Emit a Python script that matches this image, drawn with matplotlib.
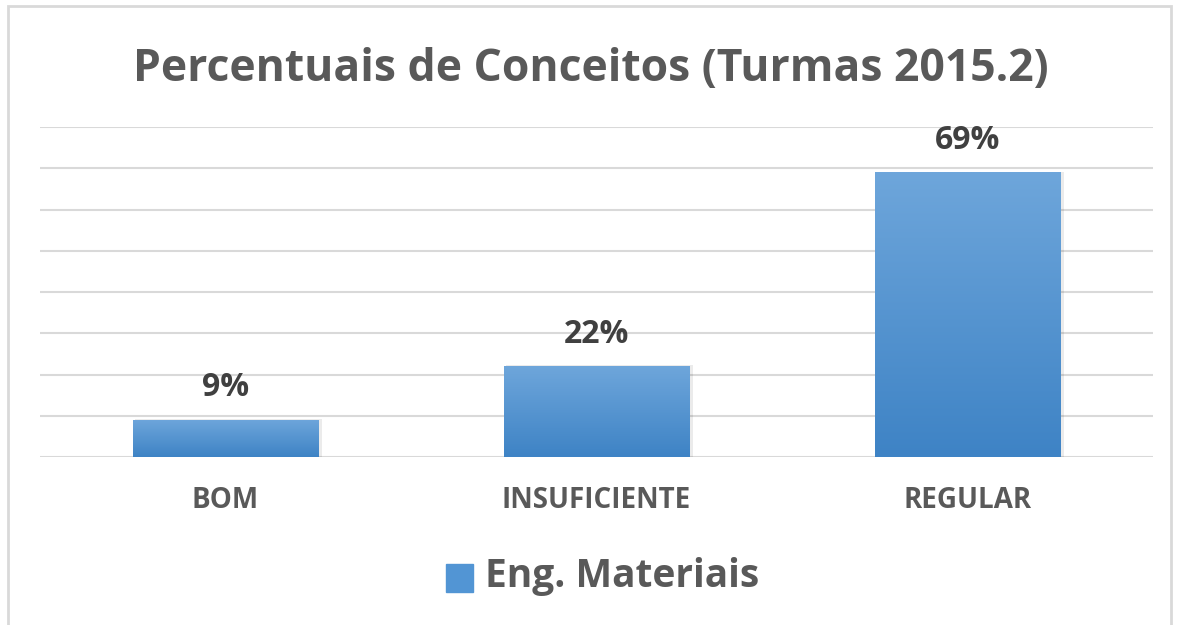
import numpy as np
import matplotlib.pyplot as plt
from matplotlib.colors import LinearSegmentedColormap
from matplotlib.patches import Rectangle

# --- Dados ---
categorias = ["BOM", "INSUFICIENTE", "REGULAR"]
percentuais = [9, 22, 69]
serie = "Eng. Materiais"
titulo = "Percentuais de Conceitos (Turmas 2015.2)"

FONTE = ["Open Sans", "DejaVu Sans"]
CINZA = "#595959"
gradiente = LinearSegmentedColormap.from_list("azul", ["#3E83C5", "#6EA6DB"])

fig = plt.figure(figsize=(11.81, 6.25), dpi=100)
ax = fig.add_axes([40 / 1181, 1 - 457 / 625, 1113 / 1181, 330 / 625])

x = np.arange(len(categorias))
largura = 0.5
ax.set_xlim(-0.5, len(categorias) - 0.5)
ax.set_ylim(0, 80)

for y in range(0, 90, 10):
    ax.axhline(y, color="#D9D9D9", linewidth=1.5, zorder=0)

barras = ax.bar(x, percentuais, width=largura, color="none", zorder=2)
grad = np.linspace(0, 1, 256).reshape(-1, 1)
for b, v in zip(barras, percentuais):
    x0 = b.get_x()
    # sombra leve
    ax.add_patch(Rectangle((x0 + 0.006, 0), largura + 0.004, v + 0.2,
                           color="#000000", alpha=0.08, zorder=1, linewidth=0))
    im = ax.imshow(grad, cmap=gradiente, aspect="auto", origin="lower",
                   extent=(x0, x0 + largura, 0, v), zorder=2)
    im.set_clip_path(b)
    ax.text(b.get_x() + largura / 2, v + 7.8, f"{v}%", ha="center", va="center",
            fontsize=23, fontweight="bold", color="#404040", family=FONTE)

ax.set_xticks(x)
ax.set_xticklabels(categorias, fontsize=20, fontweight="bold", color=CINZA, family=FONTE)
ax.tick_params(axis="x", length=0, pad=21)
ax.set_yticks([])
for s in ax.spines.values():
    s.set_visible(False)

fig.text(0.5, 1 - 70 / 625, titulo, ha="center", va="center", fontsize=32,
         fontweight="bold", color=CINZA, family=FONTE)

# legenda
fig.patches.append(Rectangle((446 / 1181, 1 - 592 / 625), 27 / 1181, 28 / 625,
                             transform=fig.transFigure, color="#5295D4"))
fig.text(485 / 1181, 1 - 577 / 625, serie, ha="left", va="center", fontsize=28,
         fontweight="bold", color=CINZA, family=FONTE)

# moldura
fig.patches.append(Rectangle((8 / 1181, -0.02), 1163 / 1181, 1 - 6 / 625 + 0.02,
                             transform=fig.transFigure, fill=False,
                             edgecolor="#D9D9D9", linewidth=2))

fig.savefig("out.png", dpi=100)
